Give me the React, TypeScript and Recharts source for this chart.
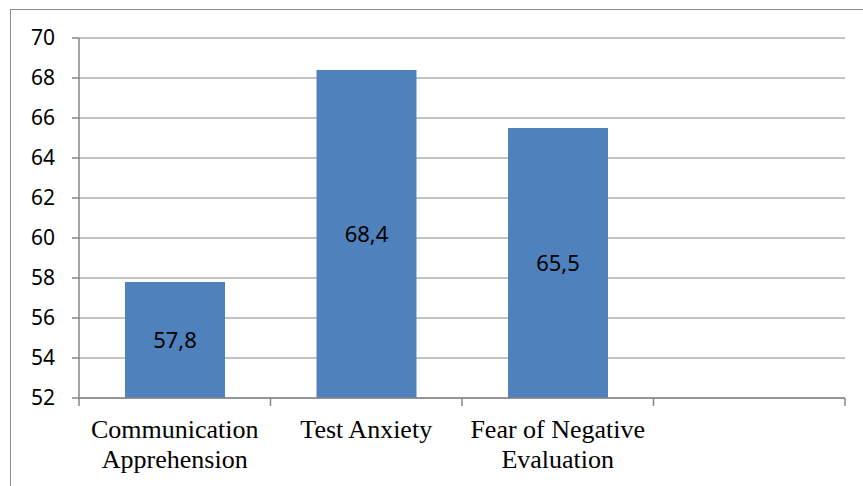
import React from "react";
import {
  Bar,
  BarChart,
  CartesianGrid,
  LabelList,
  XAxis,
  YAxis,
} from "recharts";

const categories = [
  ["Communication", "Apprehension"],
  ["Test Anxiety"],
  ["Fear of Negative", "Evaluation"],
  [""],
];
const scores: (number | null)[] = [57.8, 68.4, 65.5, null];
const yTicks = [52, 54, 56, 58, 60, 62, 64, 66, 68, 70];

const data = categories.map((lines, i) => ({
  name: lines.join(" "),
  lines,
  score: scores[i],
}));

const GRAY = "#868686";

function CategoryTick(props: any) {
  const { x, y, payload, index } = props;
  const half = payload.offset || 0;
  const lines = data[index] ? data[index].lines : [];
  const axisY = y - 10;
  return (
    <g>
      <line x1={x - half} x2={x - half} y1={axisY} y2={axisY + 8} stroke={GRAY} strokeWidth={1.5} />
      {index === data.length - 1 && (
        <line x1={x + half} x2={x + half} y1={axisY} y2={axisY + 8} stroke={GRAY} strokeWidth={1.5} />
      )}
      <text
        x={x}
        y={axisY}
        textAnchor="middle"
        fontFamily="'Liberation Serif', 'Times New Roman', serif"
        fontSize={26}
        fill="#000"
      >
        {lines.map((l: string, i: number) => (
          <tspan key={i} x={x} y={axisY + 40 + i * 30}>
            {l}
          </tspan>
        ))}
      </text>
    </g>
  );
}

export default function App() {
  return (
    <div
      style={{
        position: "absolute",
        left: 0,
        top: 0,
        width: 863,
        height: 486,
        overflow: "hidden",
        background: "#fff",
      }}
    >
      <div
        style={{
          position: "absolute",
          left: 10,
          top: 9,
          width: 900,
          height: 520,
          border: "1.5px solid #8c8c8c",
        }}
      />
      <BarChart
        width={863}
        height={486}
        data={data}
        margin={{ top: 38, right: 18, left: 0, bottom: 0 }}
        style={{ position: "absolute", left: 0, top: 0 }}
      >
        <CartesianGrid vertical={false} stroke={GRAY} strokeWidth={1} />
        <XAxis
          dataKey="name"
          height={88}
          interval={0}
          tickLine={false}
          tickSize={8}
          tickMargin={2}
          axisLine={{ stroke: GRAY, strokeWidth: 1.5 }}
          tick={<CategoryTick />}
        />
        <YAxis
          width={79}
          domain={[52, 70]}
          ticks={yTicks}
          interval={0}
          allowDataOverflow
          tickSize={7}
          tickMargin={17}
          tickLine={{ stroke: GRAY, strokeWidth: 1.5 }}
          axisLine={{ stroke: GRAY, strokeWidth: 1.5 }}
          tick={{ fill: "#000", fontSize: 21, fontFamily: "'Noto Sans', sans-serif" }}
        />
        <Bar dataKey="score" fill="#4F81BD" barSize={100} isAnimationActive={false}>
          <LabelList
            dataKey="score"
            position="center"
            fill="#000"
            fontSize={22}
            fontFamily="'Noto Sans', sans-serif"
            formatter={(v: any) => (v == null ? "" : String(v).replace(".", ","))}
          />
        </Bar>
      </BarChart>
    </div>
  );
}
